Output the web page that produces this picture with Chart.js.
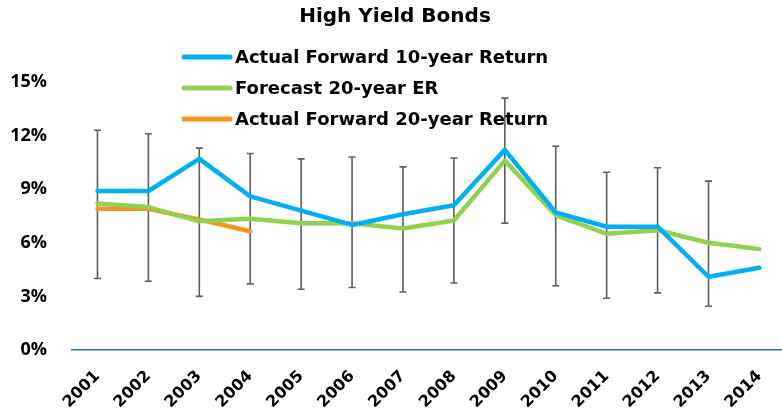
<!DOCTYPE html>
<html>
<head>
<meta charset="utf-8">
<script src="https://cdn.jsdelivr.net/npm/chart.js@4/dist/chart.umd.min.js"></script>
<style>
  html, body { margin: 0; padding: 0; background: #fff; overflow: hidden; }
  #wrap { width: 790px; height: 417px; position: relative; }
</style>
</head>
<body>
<div id="wrap"><canvas id="c"></canvas></div>
<script>
// Years on the category axis
const years = ['2001','2002','2003','2004','2005','2006','2007','2008','2009','2010','2011','2012','2013','2014'];

// Returns in percent
const actual10 = [8.9, 8.9, 10.7, 8.6, 7.8, 7.0, 7.6, 8.1, 11.2, 7.7, 6.9, 6.9, 4.1, 4.6];
const forecast20 = [8.2, 8.0, 7.2, 7.35, 7.1, 7.1, 6.8, 7.25, 10.6, 7.55, 6.5, 6.7, 6.0, 5.65];
const actual20 = [7.9, 7.9, 7.3, 6.65, null, null, null, null, null, null, null, null, null, null];

// Range around the forecast (upper / lower whisker)
const rangeHigh = [12.3, 12.1, 11.3, 11.0, 10.7, 10.8, 10.25, 10.75, 14.1, 11.4, 9.95, 10.2, 9.45, null];
const rangeLow  = [4.0, 3.85, 3.0, 3.7, 3.4, 3.5, 3.25, 3.75, 7.1, 3.6, 2.9, 3.2, 2.45, null];

const yTicks = [0, 3, 6, 9, 12, 15];

const seriesNames = ['Actual Forward 10-year Return', 'Forecast 20-year ER', 'Actual Forward 20-year Return'];
const seriesColors = ['#00B0F0', '#92D050', '#F7941D'];

const WIDE = '"DejaVu Sans", sans-serif';
const NARROW = '"Open Sans", "Lato", sans-serif';

// Whiskers drawn beneath the lines
const whiskers = {
  id: 'whiskers',
  beforeDatasetsDraw(chart) {
    const ctx = chart.ctx, x = chart.scales.x, y = chart.scales.y;
    ctx.save();
    ctx.strokeStyle = '#5f5f5f';
    ctx.lineWidth = 1.6;
    rangeHigh.forEach((hi, i) => {
      const lo = rangeLow[i];
      if (hi == null || lo == null) return;
      const px = x.getPixelForValue(i);
      const top = y.getPixelForValue(hi), bot = y.getPixelForValue(lo);
      ctx.beginPath();
      ctx.moveTo(px, top); ctx.lineTo(px, bot);
      ctx.moveTo(px - 3.5, top); ctx.lineTo(px + 3.5, top);
      ctx.moveTo(px - 3.5, bot); ctx.lineTo(px + 3.5, bot);
      ctx.stroke();
    });
    ctx.restore();
  }
};

// Stacked legend placed over the upper part of the plot
const stackedLegend = {
  id: 'stackedLegend',
  afterDraw(chart) {
    const ctx = chart.ctx;
    ctx.save();
    ctx.font = 'bold 18px ' + WIDE;
    ctx.textBaseline = 'middle';
    ctx.fillStyle = '#000';
    chart.data.datasets.forEach((ds, i) => {
      const yy = 57 + i * 31;
      ctx.strokeStyle = ds.borderColor;
      ctx.lineWidth = 5;
      ctx.lineCap = 'round';
      ctx.beginPath();
      ctx.moveTo(184, yy); ctx.lineTo(230, yy);
      ctx.stroke();
      ctx.fillText(ds.label, 235, yy + 1);
    });
    ctx.restore();
  }
};

const lineStyle = { borderWidth: 4.5, pointRadius: 0, tension: 0, borderCapStyle: 'round', borderJoinStyle: 'round', fill: false };

new Chart(document.getElementById('c'), {
  type: 'line',
  data: {
    labels: years,
    datasets: [
      Object.assign({ label: seriesNames[0], data: actual10, borderColor: seriesColors[0], backgroundColor: seriesColors[0] }, lineStyle),
      Object.assign({ label: seriesNames[1], data: forecast20, borderColor: seriesColors[1], backgroundColor: seriesColors[1] }, lineStyle),
      Object.assign({ label: seriesNames[2], data: actual20, borderColor: seriesColors[2], backgroundColor: seriesColors[2] }, lineStyle)
    ]
  },
  options: {
    responsive: true,
    maintainAspectRatio: false,
    animation: false,
    layout: { padding: { left: 0, right: 0, top: 0, bottom: 0 } },
    plugins: {
      legend: { display: false },
      tooltip: { enabled: false },
      title: {
        display: true,
        text: 'High Yield Bonds',
        color: '#000',
        font: { family: WIDE, size: 20, weight: 'bold' },
        padding: { top: 5, bottom: 53 }
      }
    },
    scales: {
      x: {
        offset: true,
        grid: { display: false, drawTicks: false },
        border: { display: true, color: '#2E6E9E', width: 1.6 },
        ticks: {
          color: '#000',
          font: { family: WIDE, size: 16, weight: 'bold' },
          minRotation: 45, maxRotation: 45,
          padding: 17,
          autoSkip: false
        },
        afterFit(s) { s.height = 67; }
      },
      y: {
        min: 0, max: 15,
        afterBuildTicks(s) { s.ticks = yTicks.map(v => ({ value: v })); },
        grid: { display: false, drawTicks: false },
        border: { display: false },
        ticks: {
          color: '#000',
          font: { family: NARROW, size: 18, weight: 'bold' },
          padding: 25,
          callback: v => v + '%'
        },
        afterFit(s) { s.width = 72; }
      }
    }
  },
  plugins: [whiskers, stackedLegend]
});
</script>
</body>
</html>
